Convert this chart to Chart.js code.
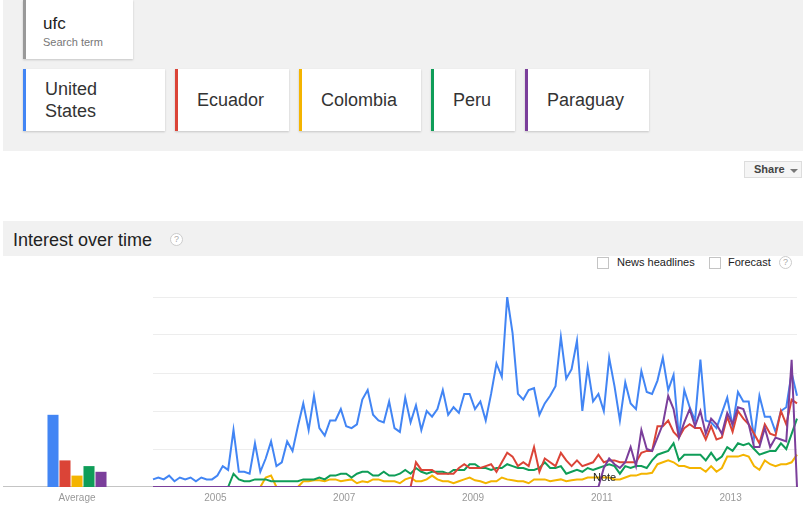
<!DOCTYPE html>
<html>
<head>
<meta charset="utf-8">
<script src="https://cdn.jsdelivr.net/npm/chart.js@4/dist/chart.umd.min.js"></script>
<style>
  body { margin: 0; width: 808px; height: 507px; background: #fff; position: relative; overflow: hidden;
         font-family: Arial, "Liberation Sans", sans-serif; color: #222; }
  .abs { position: absolute; }
  .panel { left: 3px; top: 0; width: 800px; height: 151px; background: #f1f1f1; }
  .card { background: #fff; box-shadow: 0 1px 2px rgba(0,0,0,0.18); border-left: 3px solid #999; box-sizing: border-box; }
  .country { top: 69px; height: 62px; font-size: 18px; color: #333; }
  .country span { position: absolute; left: 19px; top: 50%; transform: translateY(-50%); line-height: 22px; }
  .share { left: 744px; top: 161px; width: 58px; height: 17px; background: #f5f5f5; border: 1px solid #ddd; box-sizing: border-box;
           font-size: 11px; font-weight: bold; color: #444; line-height: 15px; padding-left: 9px; }
  .share i { position: absolute; left: 45px; top: 7px; width: 0; height: 0; border-left: 4px solid transparent;
             border-right: 4px solid transparent; border-top: 4px solid #777; }
  .header { left: 3px; top: 221px; width: 800px; height: 35px; background: #f1f1f1; }
  .help { width: 13px; height: 13px; border: 1px solid #ccc; border-radius: 50%; box-sizing: border-box; background: #fff;
          font-size: 9px; color: #aaa; text-align: center; line-height: 11px; }
  .box { width: 12px; height: 12px; border: 1px solid #c4c4c4; box-sizing: border-box; background: #fff; }
  .opt { font-size: 11px; color: #222; line-height: 13px; }
  .baseline { left: 3px; top: 486px; width: 795px; height: 1px; background: #c4c4c4; }
  canvas { position: absolute; }
</style>
</head>
<body>
<div class="abs panel"></div>
<div class="abs card" style="left:23px; top:0; width:110px; height:59px;"></div>
<div class="abs" style="left:43px; top:14px; font-size:17px; color:#222;">ufc</div>
<div class="abs" style="left:43px; top:36px; font-size:11px; color:#777;">Search term</div>

<div class="abs card country" style="left:23px; width:142px; border-left-color:#4285f4;"><span>United<br>States</span></div>
<div class="abs card country" style="left:175px; width:114px; border-left-color:#db4437;"><span>Ecuador</span></div>
<div class="abs card country" style="left:299px; width:122px; border-left-color:#f4b400;"><span>Colombia</span></div>
<div class="abs card country" style="left:431px; width:84px; border-left-color:#0f9d58;"><span>Peru</span></div>
<div class="abs card country" style="left:525px; width:124px; border-left-color:#7b3f9b;"><span>Paraguay</span></div>

<div class="abs share">Share<i></i></div>

<div class="abs header"></div>
<div class="abs" style="left:13px; top:229px; font-size:18px; color:#222; line-height:22px;">Interest over time</div>
<div class="abs help" style="left:170px; top:233px;">?</div>

<div class="abs box" style="left:597px; top:257px;"></div>
<div class="abs opt" style="left:617px; top:256px;">News headlines</div>
<div class="abs box" style="left:709px; top:257px;"></div>
<div class="abs opt" style="left:728px; top:256px;">Forecast</div>
<div class="abs help" style="left:779px; top:256px;">?</div>

<div class="abs baseline"></div>
<canvas id="avgChart" width="150" height="220" style="left:0; top:287px;"></canvas>
<canvas id="trendChart" width="668" height="220" style="left:140px; top:287px;"></canvas>
<div class="abs" style="left:593px; top:471px; font-size:11px; color:#222; line-height:13px;">Note</div>

<script>
// Series names and colours
const countries = ['United States', 'Ecuador', 'Colombia', 'Peru', 'Paraguay'];
const colors = ['#4285f4', '#db4437', '#f4b400', '#0f9d58', '#7b3f9b'];

// Average bar values
const averages = [38, 14, 6, 11, 8];

// Year labels shown on the time axis
const yearTicks = ['2005', '2007', '2009', '2011', '2013'];

// Monthly points, Jan 2004 - Jan 2014
const firstYear = 2004;
const monthCount = 121;
const months = [];
for (let i = 0; i < monthCount; i++) {
    const y = firstYear + Math.floor(i / 12);
    const m = (i % 12) + 1;
    months.push(y + '-' + (m < 10 ? '0' + m : m));
}

const unitedStates = [
    4, 5, 4, 6, 3, 5, 4, 5, 3, 5,
    4, 4, 6, 11, 9, 30, 8, 8, 7, 23,
    8, 15, 24, 11, 13, 24, 19, 32, 44, 30,
    48, 31, 27, 35, 35, 41, 32, 31, 33, 46,
    51, 38, 35, 34, 45, 31, 29, 47, 34, 43,
    30, 40, 37, 41, 51, 38, 42, 39, 49, 49,
    41, 45, 35, 49, 65, 58, 100, 81, 49, 46,
    51, 52, 38, 44, 48, 53, 79, 57, 62, 77,
    40, 63, 45, 49, 40, 68, 53, 35, 55, 44,
    41, 61, 50, 49, 56, 68, 51, 59, 26, 51,
    42, 35, 67, 35, 34, 31, 39, 47, 32, 50,
    45, 45, 26, 48, 37, 37, 29, 40, 42, 60,
    48
];

const ecuador = [
    0, 0, 0, 0, 0, 0, 0, 0, 0, 0,
    0, 0, 0, 0, 0, 0, 0, 0, 0, 0,
    0, 0, 0, 0, 0, 0, 0, 0, 0, 0,
    0, 0, 0, 0, 0, 0, 0, 0, 0, 0,
    0, 0, 0, 0, 0, 0, 0, 0, 0, 13,
    9, 9, 9, 7, 7, 7, 7, 10, 12, 10,
    10, 10, 11, 12, 8, 13, 18, 16, 11, 13,
    11, 21, 8, 15, 13, 11, 18, 14, 11, 14,
    11, 12, 13, 17, 13, 14, 14, 13, 13, 13,
    13, 18, 19, 19, 32, 32, 35, 29, 26, 31,
    33, 31, 31, 25, 32, 25, 26, 37, 29, 40,
    36, 33, 28, 23, 33, 28, 27, 40, 33, 46,
    44
];

const colombia = [
    0, 0, 0, 0, 0, 0, 0, 0, 0, 0,
    0, 0, 0, 0, 0, 0, 0, 0, 0, 0,
    0, 5, 6, 0, 0, 0, 0, 0, 3, 3,
    3.5, 3.5, 3, 4, 4, 3, 3.5, 4, 2, 3,
    2.5, 4, 4, 3, 3, 3, 2, 4, 5, 3,
    3, 4, 6, 4, 3, 3, 2, 3, 4, 5,
    3.5, 3, 2, 3, 3, 5, 4, 3.5, 3, 3,
    2, 4, 4, 4, 3, 3.5, 4, 3, 3.5, 4,
    4, 5, 5, 5, 5, 5, 4, 4, 5, 6,
    6, 7, 7, 7.5, 12, 13, 14, 13, 11, 11,
    10, 10, 10, 8, 11, 8, 10, 16, 16, 16,
    17, 16, 11, 9, 14, 12, 11, 12, 12, 13,
    17
];

const peru = [
    0, 0, 0, 0, 0, 0, 0, 0, 0, 0,
    0, 0, 0, 0, 0, 7, 4, 3, 3, 4,
    4, 4, 3, 3, 3, 3, 3, 3, 4, 4,
    4, 5, 4, 6, 6, 7, 7, 5, 7, 8,
    8, 6, 6, 8, 6, 6, 7, 9, 7, 10,
    8, 7, 8, 8, 8, 7, 9, 9, 9, 12,
    12, 10, 10, 9, 10, 10, 12, 11, 10, 10,
    9, 9, 10, 13, 10, 10, 11, 7, 8, 9,
    8, 10, 9, 10, 11, 12, 11, 7, 11, 10,
    11, 11, 10, 14, 17, 18, 19, 23, 14, 17,
    17, 17, 17, 14, 18, 14, 16, 21, 19, 23,
    22, 23, 20, 17, 18, 19, 19, 23, 20, 28,
    36
];

const paraguay = [
    0, 0, 0, 0, 0, 0, 0, 0, 0, 0,
    0, 0, 0, 0, 0, 0, 0, 0, 0, 0,
    0, 0, 0, 0, 0, 0, 0, 0, 0, 0,
    0, 0, 0, 0, 0, 0, 0, 0, 0, 0,
    0, 0, 0, 0, 0, 0, 0, 0, 0, 0,
    0, 0, 0, 0, 0, 0, 0, 0, 0, 0,
    0, 0, 0, 0, 0, 0, 0, 0, 0, 0,
    0, 0, 0, 0, 0, 0, 0, 0, 0, 0,
    0, 0, 0, 0, 10, 15, 12, 10, 13, 21,
    11, 30, 20, 19, 26, 33, 48, 41, 26, 34,
    41, 32, 40, 28, 36, 33, 28, 39, 33, 42,
    41, 33, 21, 21, 31, 21, 26, 25, 24, 67,
    0
];

const seriesValues = [unitedStates, ecuador, colombia, peru, paraguay];
// purple drawn on top, blue underneath
const drawOrder = [5, 2, 4, 3, 1];

// Average bars
new Chart(document.getElementById('avgChart'), {
    type: 'bar',
    data: {
        labels: ['Average'],
        datasets: countries.map((name, i) => ({
            label: name,
            data: [averages[i]],
            backgroundColor: colors[i],
            borderWidth: 0,
            categoryPercentage: 1,
            barPercentage: 0.92
        }))
    },
    options: {
        responsive: false,
        animation: false,
        layout: { padding: { left: 47, right: 43, top: 10, bottom: 0 } },
        plugins: { legend: { display: false }, tooltip: { enabled: false } },
        scales: {
            x: {
                grid: { display: false, drawTicks: false },
                border: { display: false },
                ticks: { color: '#999', font: { size: 10, family: 'Arial' }, padding: 5 },
                afterFit: s => { s.height = 20; }
            },
            y: {
                min: 0, max: 100,
                grid: { display: false },
                border: { display: false },
                ticks: { display: false },
                afterFit: s => { s.width = 0; }
            }
        }
    }
});

// Interest over time
new Chart(document.getElementById('trendChart'), {
    type: 'line',
    data: {
        labels: months,
        datasets: countries.map((name, i) => ({
            label: name,
            data: seriesValues[i],
            borderColor: colors[i],
            borderWidth: 2,
            pointRadius: 0,
            tension: 0,
            fill: false,
            order: drawOrder[i]
        }))
    },
    options: {
        responsive: false,
        animation: false,
        layout: { padding: { left: 13, right: 11, top: 10, bottom: 0 } },
        plugins: { legend: { display: false }, tooltip: { enabled: false } },
        scales: {
            x: {
                grid: { display: false, drawTicks: false },
                border: { display: false },
                ticks: {
                    autoSkip: false,
                    maxRotation: 0,
                    color: '#999',
                    font: { size: 10, family: 'Arial' },
                    padding: 5,
                    labelOffset: -2,
                    callback: function(value, index) {
                        const lbl = months[index];
                        const yr = lbl.slice(0, 4);
                        return (lbl.slice(5) === '01' && yearTicks.includes(yr)) ? yr : '';
                    }
                },
                afterFit: s => { s.height = 20; }
            },
            y: {
                min: 0, max: 100,
                ticks: { display: false, stepSize: 20 },
                border: { display: false },
                grid: {
                    drawTicks: false,
                    color: ctx => ctx.tick.value === 0 ? 'rgba(0,0,0,0)' : '#ededed'
                },
                afterFit: s => { s.width = 0; }
            }
        }
    }
});
</script>
</body>
</html>
